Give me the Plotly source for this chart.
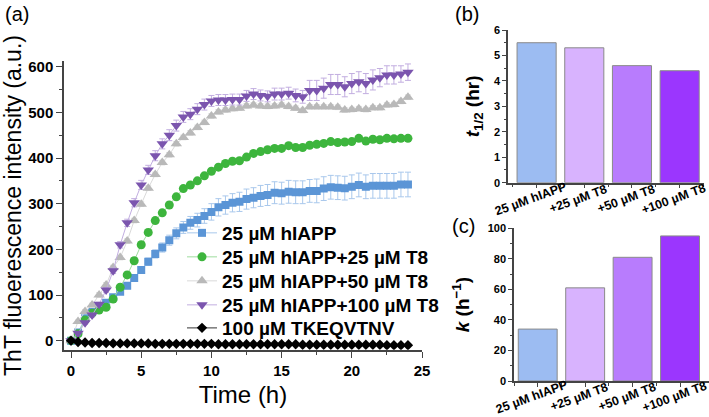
import plotly.graph_objects as go

# time points (h)
t = [0, 0.5, 1, 1.5, 2, 2.5, 3, 3.5, 4, 4.5, 5, 5.5, 6, 6.5, 7, 7.5, 8, 8.5, 9, 9.5,
     10, 10.5, 11, 11.5, 12, 12.5, 13, 13.5, 14, 14.5, 15, 15.5, 16, 16.5, 17, 17.5,
     18, 18.5, 19, 19.5, 20, 20.5, 21, 21.5, 22, 22.5, 23, 23.5, 24]

# ThT curves (a.u.)
hiapp = [0, 18, 49, 63, 73, 83, 95, 107, 120, 137, 155, 173, 190, 204, 220, 235, 248, 258, 264, 273,
         282, 292, 297, 302, 304, 310, 313, 317, 319, 324, 323, 326, 325, 325, 328, 328, 333, 336, 335, 334,
         337, 341, 337, 339, 339, 339, 339, 342, 342]
hiapp_err = [2, 3, 4, 4, 4, 5, 5, 5, 6, 6, 7, 8, 9, 10, 11, 12, 13, 14, 15, 16,
             18, 19, 20, 20, 21, 22, 22, 23, 23, 24, 24, 25, 25, 25, 25, 26, 26, 26, 26, 26,
             26, 26, 26, 27, 27, 27, 27, 27, 27]
t8_25 = [0, 15, 45, 60, 67, 73, 91, 117, 144, 175, 210, 237, 263, 280, 297, 315, 333, 341, 350, 361,
         371, 380, 388, 393, 394, 402, 410, 414, 418, 421, 421, 427, 423, 423, 428, 430, 432, 436, 434, 435,
         436, 443, 437, 441, 440, 443, 442, 443, 443]
t8_25_err = [1, 2, 3, 3, 4, 4, 5, 6, 6, 7, 7, 7, 6, 6, 6, 6, 5, 5, 5, 5,
             5, 5, 5, 5, 5, 5, 5, 5, 5, 5, 5, 5, 5, 5, 5, 5, 5, 5, 5, 5,
             5, 5, 5, 5, 5, 5, 5, 5, 5]
t8_50 = [0, 42, 64, 78, 100, 122, 160, 182, 218, 263, 299, 334, 364, 390, 407, 431, 445, 455, 467, 478,
         492, 501, 505, 508, 509, 514, 516, 514, 513, 514, 516, 513, 509, 504, 512, 512, 512, 512, 511, 505,
         506, 508, 506, 510, 510, 516, 517, 524, 533]
t8_50_err = [1, 3, 4, 4, 5, 5, 5, 5, 5, 5, 5, 5, 5, 5, 5, 5, 5, 5, 5, 5,
             5, 5, 5, 5, 5, 5, 5, 5, 5, 5, 5, 5, 5, 5, 5, 5, 5, 5, 5, 5,
             5, 5, 5, 5, 5, 5, 5, 5, 5]
t8_100 = [0, 16, 39, 56, 80, 111, 153, 210, 258, 302, 341, 374, 405, 431, 450, 471, 490, 496, 507, 517,
          525, 527, 527, 528, 528, 536, 540, 537, 535, 540, 540, 542, 537, 534, 548, 548, 553, 561, 561, 556,
          563, 567, 563, 571, 576, 582, 582, 584, 588]
t8_100_err = [2, 3, 3, 4, 4, 5, 6, 7, 8, 9, 10, 10, 11, 11, 12, 12, 12, 12, 12, 12,
              12, 12, 12, 12, 12, 12, 12, 12, 12, 13, 13, 13, 14, 14, 22, 22, 22, 22, 22, 22,
              22, 22, 22, 22, 20, 20, 20, 18, 18]
tkeq = [0, -3, -4, -5, -5, -5, -6, -6, -6, -6, -6, -6, -7, -7, -7, -7, -7, -7, -7, -7,
        -7, -8, -8, -8, -8, -8, -8, -8, -8, -8, -8, -8, -8, -9, -9, -9, -9, -9, -9, -9,
        -9, -9, -9, -9, -9, -10, -10, -10, -10]

# bar panels
groups = ["25 µM hIAPP", "+25 µM T8", "+50 µM T8", "+100 µM T8"]
group_pos = [0, 1, 2, 3]
t_half = [5.5, 5.3, 4.6, 4.4]
k_rate = [34, 61, 81, 95]
bar_colors = ["#9cbcf2", "#d8b3fe", "#b87cfd", "#9b36fe"]

FONT = "Arial, Liberation Sans, sans-serif"

W, H = 709, 417
def px(x):  # pixel x -> paper
    return x / W
def py(y):  # pixel y (from top) -> paper
    return (H - y) / H

fig = go.Figure()

# one legend per entry so the row spacing can follow the original
legend_rows = [233, 257, 281, 305, 328]

series = [
    ("25 µM hIAPP", hiapp, hiapp_err, "square", 8, "#5b95d6", "#a9c8ec"),
    ("25 µM hIAPP+25 µM T8", t8_25, t8_25_err, "circle", 9, "#3db53d", "#9edc9e"),
    ("25 µM hIAPP+50 µM T8", t8_50, t8_50_err, "triangle-up", 10, "#b9b9b9", "#d9d9d9"),
    ("25 µM hIAPP+100 µM T8", t8_100, t8_100_err, "triangle-down", 10, "#7b55ae", "#c2aee0"),
]
for k, (name, y, err, sym, size, col, light) in enumerate(series):
    fig.add_trace(go.Scatter(
        x=t, y=y, name="<b>" + name + "</b>", mode="lines+markers",
        line=dict(color=light, width=1),
        marker=dict(symbol=sym, size=size, color=col),
        error_y=dict(type="data", array=err, color=light, thickness=1, width=3),
        legend="legend" if k == 0 else "legend%d" % (k + 1),
        xaxis="x", yaxis="y"))

fig.add_trace(go.Scatter(
    x=t, y=tkeq, name="<b>100 µM TKEQVTNV</b>", mode="lines+markers",
    line=dict(color="#777777", width=1.5),
    marker=dict(symbol="diamond", size=8, color="black"),
    legend="legend5", xaxis="x", yaxis="y"))

fig.add_trace(go.Bar(x=group_pos, y=t_half, marker=dict(color=bar_colors, line=dict(color="#8a8a8a", width=1)),
                     width=0.82, showlegend=False, xaxis="x2", yaxis="y2"))
fig.add_trace(go.Bar(x=group_pos, y=k_rate, marker=dict(color=bar_colors, line=dict(color="#8a8a8a", width=1)),
                     width=0.82, showlegend=False, xaxis="x3", yaxis="y3"))

axis_common = dict(showline=True, linecolor="#444444", linewidth=1.5, ticks="outside",
                   tickcolor="#444444", showgrid=False, zeroline=False, automargin=False,
                   tickprefix="<b>", ticksuffix="</b>")

annotations = [
    dict(text="(a)", x=px(16.5), y=py(14), font=dict(size=20)),
    dict(text="(b)", x=px(466.5), y=py(14), font=dict(size=20)),
    dict(text="(c)", x=px(463), y=py(226), font=dict(size=20)),
]
for i, g in zip(group_pos, groups):
    annotations.append(dict(text="<b>" + g + "</b>", x=i, xref="x2", xshift=-6, y=py(199),
                            textangle=-20, font=dict(size=12.5)))
    annotations.append(dict(text="<b>" + g + "</b>", x=i, xref="x3", xshift=-6, y=py(397),
                            textangle=-20, font=dict(size=12.5)))
for a in annotations:
    a.setdefault("xref", "paper")
    a.update(yref="paper", xanchor="center", yanchor="middle", showarrow=False)

legends = {}
for k, row in enumerate(legend_rows):
    key = "legend" if k == 0 else "legend%d" % (k + 1)
    legends[key] = dict(x=px(182), y=py(row), xanchor="left", yanchor="middle",
                        bgcolor="rgba(0,0,0,0)", font=dict(size=19), itemwidth=30)

fig.update_layout(
    width=W, height=H,
    margin=dict(l=0, r=0, t=0, b=0),
    paper_bgcolor="white", plot_bgcolor="white",
    font=dict(family=FONT, color="black"),
    xaxis=dict(domain=[px(64), px(422)], range=[-0.5, 25], dtick=5, ticklen=6,
               tickfont=dict(size=15),
               minor=dict(dtick=2.5, ticklen=3, ticks="outside", tickcolor="#444444"),
               title=dict(text="Time (h)", font=dict(size=24), standoff=9),
               anchor="y", **axis_common),
    yaxis=dict(domain=[py(349.8), py(61.2)], range=[-20, 612], dtick=100, ticklen=6,
               tickfont=dict(size=15),
               minor=dict(dtick=50, ticklen=3, ticks="outside", tickcolor="#444444"),
               title=dict(text="ThT fluoerescence intensity (a.u.)", font=dict(size=23), standoff=0),
               anchor="x", **axis_common),
    xaxis2=dict(domain=[px(508), px(703.5)], range=[-0.6, 3.5], tickvals=group_pos, showticklabels=False,
                ticklen=4, minor=dict(dtick=0.5, ticklen=3, ticks="outside", tickcolor="#444444"),
                anchor="y2", **axis_common),
    yaxis2=dict(domain=[py(182.7), py(30)], range=[0, 6], dtick=1, tickfont=dict(size=11), ticklen=4,
                minor=dict(dtick=0.5, ticklen=2, ticks="outside", tickcolor="#444444"),
                title=dict(text="<b><i>t</i><sub>1/2</sub> (hr)</b>", font=dict(size=19), standoff=9),
                anchor="x2", **axis_common),
    xaxis3=dict(domain=[px(514), px(708.5)], range=[-0.5, 3.6], tickvals=group_pos, showticklabels=False,
                ticklen=4, minor=dict(dtick=0.5, ticklen=3, ticks="outside", tickcolor="#444444"),
                anchor="y3", **axis_common),
    yaxis3=dict(domain=[py(381), py(228.3)], range=[0, 100], dtick=20, tickfont=dict(size=11), ticklen=4,
                minor=dict(dtick=10, ticklen=2, ticks="outside", tickcolor="#444444"),
                title=dict(text="<b><i>k</i> (h<sup>−1</sup>)</b>", font=dict(size=19), standoff=13),
                anchor="x3", **axis_common),
    bargap=0.18,
    annotations=annotations,
    **legends,
)

# drop the default body margin so the figure fills the window exactly
fig.write_html("out.html", config={"displayModeBar": False},
               post_script="document.body.style.margin='0px';")
